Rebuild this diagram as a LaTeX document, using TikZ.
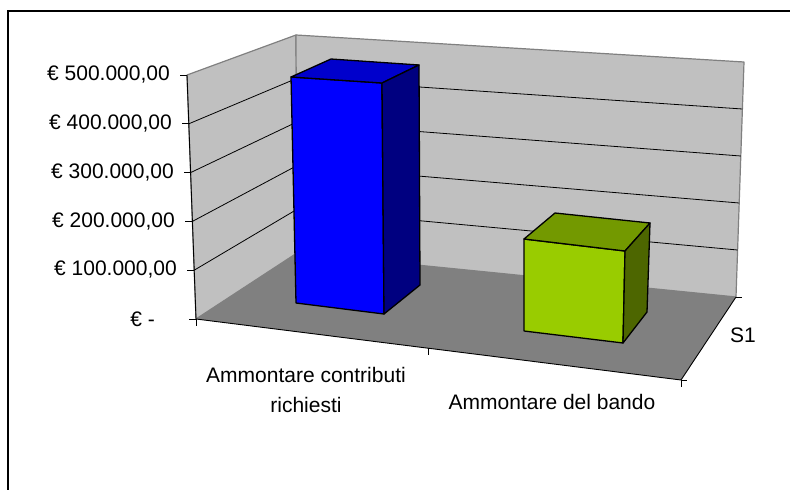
\documentclass[tikz,border=0pt]{standalone}
\usepackage{fontspec}
\setmainfont{Liberation Sans}
\usepackage{xcolor}
\usepackage{tikz}

\definecolor{wallgray}{RGB}{192,192,192}
\definecolor{floorgray}{RGB}{128,128,128}
\definecolor{edgegray}{RGB}{128,128,128}
\definecolor{frontblue}{RGB}{0,0,255}
\definecolor{topblue}{RGB}{0,0,204}
\definecolor{sideblue}{RGB}{0,0,128}
\definecolor{frontgreen}{RGB}{153,204,0}
\definecolor{topgreen}{RGB}{115,153,0}
\definecolor{sidegreen}{RGB}{77,102,0}

\tikzset{
  lbl/.style={font=\fontsize{21}{30}\selectfont, inner sep=0pt, align=center},
  face/.style={draw=black, line width=1.3pt, line join=round},
  gridline/.style={black, line width=0.8pt},
  axisline/.style={black, line width=0.9pt}
}

\begin{document}
\begin{tikzpicture}[x=1pt,y=-1pt]
        \useasboundingbox (0,0) rectangle (790,490);
        % Draw the frame
        \draw[line width=1.3pt] (8,490) -- (8,11) -- (790,11);
        % Draw the walls and the floor
        \filldraw[fill=wallgray, draw=edgegray, line width=1.2pt, line join=round]
          (187,75) -- (296,35) -- (297,253) -- (196,319) -- cycle;
        \filldraw[fill=wallgray, draw=edgegray, line width=1.2pt, line join=round]
          (296,35) -- (744,62) -- (736,297) -- (297,253) -- cycle;
        \fill[floorgray] (196,319) -- (297,253) -- (736,297) -- (681,380) -- cycle;
        % Draw the gridlines
        \foreach \k in {1,...,4}
          \draw[gridline] ({196-1.8*\k},{319-48.8*\k}) -- ({297-0.2*\k},{253-43.6*\k})
            -- ({736+1.6*\k},{297-47*\k});
        % Draw the axes and ticks
        \draw[axisline] (187,75) -- (196,319) -- (681,380) -- (736,297);
        \foreach \k in {0,...,5}
          \draw[axisline] ({196-1.8*\k},{319-48.8*\k}) -- ({189-1.8*\k},{319-48.8*\k});
        \draw[axisline] (196,319) -- (196,326);
        \draw[axisline] (428,348) -- (428,355);
        \draw[axisline] (681,380) -- (681,387);
        \draw[axisline] (681,380) -- (687,380);
        \draw[axisline] (736,297) -- (742,297);
        % Draw the value labels
        \node[lbl, anchor=east] (ylab5) at (170,75) {€ 500.000,00};
        \node[lbl, anchor=east] (ylab4) at (172,124) {€ 400.000,00};
        \node[lbl, anchor=east] (ylab3) at (174,173) {€ 300.000,00};
        \node[lbl, anchor=east] (ylab2) at (175,222) {€ 200.000,00};
        \node[lbl, anchor=east] (ylab1) at (177,270) {€ 100.000,00};
        \node[lbl, anchor=east] (ylab0) at (155,319) {€ -};
        % Draw the bar of the requested amount
        \filldraw[face, fill=frontblue] (291,77) -- (382,83) -- (384,314) -- (296,303) -- cycle;
        \filldraw[face, fill=topblue] (291,77) -- (331,59) -- (419,65) -- (382,83) -- cycle;
        \filldraw[face, fill=sideblue] (382,83) -- (419,65) -- (420,285) -- (384,314) -- cycle;
        % Draw the bar of the call amount
        \filldraw[face, fill=frontgreen] (524,239) -- (625,251) -- (623,343) -- (524,331) -- cycle;
        \filldraw[face, fill=topgreen] (524,239) -- (555,213) -- (650,223) -- (625,251) -- cycle;
        \filldraw[face, fill=sidegreen] (625,251) -- (650,223) -- (647,312) -- (623,343) -- cycle;
        % Draw the category and series labels
        \node[lbl] (catreq) at (306,390) {Ammontare contributi\\richiesti};
        \node[lbl] (catcall) at (552,402) {Ammontare del bando};
        \node[lbl] (series) at (743,335) {S1};
\end{tikzpicture}
\end{document}
